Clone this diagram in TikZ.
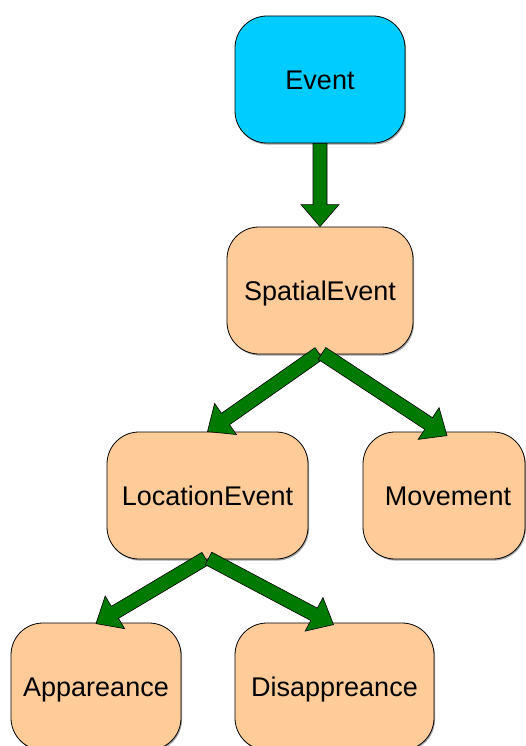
\documentclass[tikz,border=0pt]{standalone}
\usepackage{fontspec}
\setmainfont{Liberation Sans}
\usetikzlibrary{calc,shadows}

\definecolor{topblue}{HTML}{00CCFF}
\definecolor{peach}{HTML}{FFCC99}
\definecolor{arrowgreen}{HTML}{007A00}

\tikzset{
  box/.style={draw=black, line width=0.8pt, rounded corners=32pt,
    fill=peach, minimum height=127pt, inner sep=0pt,
    text height=19.5pt, text depth=0pt,
    font=\fontsize{27}{30}\selectfont,
    drop shadow={shadow xshift=1pt, shadow yshift=-1.6pt, fill=black!45, opacity=0.8}},
  rootbox/.style={box, fill=topblue},
  fatarrow/.style={fill=arrowgreen, draw=black, line width=0.6pt, line join=miter}
}

% broad arrow from one anchor to another: shaft 14pt wide, head 38pt wide
\newcommand{\fatarrow}[2]{%
  \path (#1) coordinate (fa-s) (#2) coordinate (fa-e)
        ($(fa-e)!22pt!(fa-s)$) coordinate (fa-h);
  \filldraw[fatarrow]
    ($(fa-s)!7pt!90:(fa-e)$) -- ($(fa-h)!7pt!90:(fa-e)$) --
    ($(fa-h)!19pt!90:(fa-e)$) -- (fa-e) --
    ($(fa-h)!19pt!-90:(fa-e)$) -- ($(fa-h)!7pt!-90:(fa-e)$) --
    ($(fa-s)!7pt!-90:(fa-e)$) -- cycle;
}

\begin{document}
\begin{tikzpicture}[x=1pt, y=-1pt]
  \useasboundingbox (0,0) rectangle (526,746);

  \node[rootbox, minimum width=170pt] (ev)   at (320,79.5)   {Event};
  \node[box, minimum width=186pt]     (sp)   at (320,290.5)  {SpatialEvent};
  \node[box, minimum width=201pt]     (loc)  at (207.5,495.5){LocationEvent};
  \node[box, minimum width=162pt]     (mov)  at (444,495.5)  {\hspace{8pt}Movement};
  \node[box, minimum width=170pt]     (app)  at (96,686.5)   {Appareance};
  \node[box, minimum width=199pt]     (dis)  at (334.5,686.5){Disappreance};

  \fatarrow{ev.south}{sp.north}
  \fatarrow{$(sp.south)+(-1,-1)$}{loc.north}
  \fatarrow{$(sp.south)+(2,-1)$}{$(mov.north)+(3,4)$}
  \fatarrow{$(loc.south)+(-2,-1)$}{$(app.north)+(0,1)$}
  \fatarrow{$(loc.south)+(1,-1)$}{$(dis.north)+(-1,2)$}
\end{tikzpicture}
\end{document}
